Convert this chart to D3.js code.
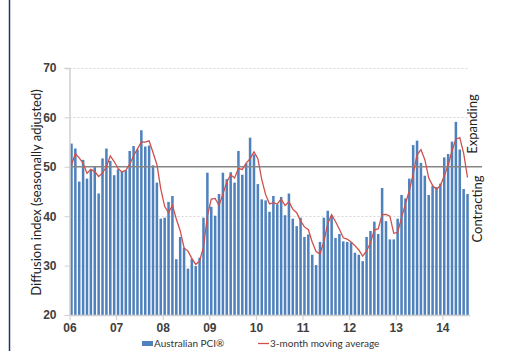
<!DOCTYPE html>
<html>
<head>
<meta charset="utf-8">
<script src="https://cdn.jsdelivr.net/npm/d3@7"></script>
<style>
  body { margin: 0; background: #fff; }
  svg { display: block; font-family: Lato, "Open Sans", sans-serif; }
</style>
</head>
<body>
<div id="chart"></div>
<script>
// Monthly Australian PCI, Jan 2006 - Jul 2014
const pciValues = [
  54.7, 53.7, 47.0, 51.4, 47.6, 49.5, 50.0, 44.6, 51.7, 53.7, 51.2, 48.3,
  49.5, 49.1, 49.3, 53.2, 54.2, 53.5, 57.4, 54.1, 54.3, 50.3, 46.8, 39.5,
  39.7, 42.9, 44.1, 31.3, 35.8, 33.6, 29.4, 31.4, 29.9, 31.6, 39.7, 48.8,
  41.9, 40.1, 44.5, 48.8, 47.5, 48.9, 46.8, 53.2, 48.4, 50.7, 55.9, 52.5,
  46.5, 43.4, 43.2, 40.9, 44.1, 42.4, 43.9, 40.2, 44.6, 39.5, 38.0, 39.7,
  35.8, 36.3, 32.2, 30.1, 34.8, 39.7, 41.1, 40.1, 35.6, 36.4, 34.9, 34.8,
  34.7, 32.6, 32.2, 30.9, 35.8, 37.0, 38.9, 36.4, 45.7, 39.0, 35.3, 35.3,
  39.5, 44.3, 43.6, 47.6, 54.4, 55.3, 50.8, 48.2, 44.3, 46.1, 45.9, 46.6,
  51.9, 52.6, 55.1, 59.1, 53.5, 45.5, 44.5
];
// Nov, Dec 2005 - only used to start the moving average
const pciLead = [46.5, 49.7];

const yearLabels = ["06", "07", "08", "09", "10", "11", "12", "13", "14"];
const yTicks = [20, 30, 40, 50, 60, 70];
const gridTicks = [30, 40, 60, 70];

const width = 510;
const height = 351;
const plot = { left: 69.5, right: 469.5, top: 68, bottom: 315 };

const barColor = "#4f81bd";
const lineColor = "#d0504d";
const textColor = "#404040";

// 3-month moving average of the index
const allValues = pciLead.concat(pciValues);
const maValues = pciValues.map(function (d, i) {
  return d3.mean(allValues.slice(i, i + 3));
});

const svg = d3.select("#chart")
  .append("svg")
  .attr("width", width)
  .attr("height", height);

svg.append("rect")
  .attr("width", width)
  .attr("height", height)
  .attr("fill", "#fff");

// dark frame edge on the left
svg.append("line")
  .attr("x1", 9.5).attr("x2", 9.5)
  .attr("y1", 0).attr("y2", height)
  .attr("stroke", "#1f3864")
  .attr("stroke-width", 1.5);

const xBand = d3.scaleBand()
  .domain(d3.range(pciValues.length))
  .range([plot.left, plot.right])
  .paddingInner(0.35)
  .paddingOuter(0.18);

const xMonth = d3.scaleLinear()
  .domain([0, pciValues.length])
  .range([plot.left, plot.right]);

const y = d3.scaleLinear()
  .domain([20, 70])
  .range([plot.bottom, plot.top]);

// dashed gridlines
svg.append("g")
  .selectAll("line")
  .data(gridTicks)
  .enter()
  .append("line")
  .attr("x1", plot.left)
  .attr("x2", plot.right - 2)
  .attr("y1", function (d) { return Math.round(y(d)) + 0.5; })
  .attr("y2", function (d) { return Math.round(y(d)) + 0.5; })
  .attr("stroke", "#d6d6d6")
  .attr("stroke-dasharray", "2,2");

// bars
svg.append("g")
  .selectAll("rect")
  .data(pciValues)
  .enter()
  .append("rect")
  .attr("x", function (d, i) { return xBand(i); })
  .attr("y", function (d) { return y(d); })
  .attr("width", xBand.bandwidth())
  .attr("height", function (d) { return plot.bottom - y(d); })
  .attr("fill", barColor);

// 50 line separating expanding / contracting
svg.append("line")
  .attr("x1", plot.left)
  .attr("x2", 482)
  .attr("y1", y(50))
  .attr("y2", y(50))
  .attr("stroke", "#858585")
  .attr("stroke-width", 1.5);

// moving average line
const line = d3.line()
  .x(function (d, i) { return xBand(i) + xBand.bandwidth() / 2; })
  .y(function (d) { return y(d); });

svg.append("path")
  .datum(maValues)
  .attr("d", line)
  .attr("fill", "none")
  .attr("stroke", lineColor)
  .attr("stroke-width", 1.3);

// y axis
const yAxis = svg.append("g")
  .attr("transform", `translate(${plot.left}, 0)`)
  .call(d3.axisLeft(y).tickValues(yTicks).tickSize(5).tickPadding(8));

// x axis
const xAxis = svg.append("g")
  .attr("transform", `translate(0, ${plot.bottom})`)
  .call(d3.axisBottom(xMonth)
    .tickValues(yearLabels.map(function (d, i) { return i * 12; }))
    .tickFormat(function (d, i) { return yearLabels[i]; })
    .tickSize(5)
    .tickPadding(3)
    .tickSizeOuter(0));

[yAxis, xAxis].forEach(function (g) {
  g.select(".domain").attr("stroke", "#d0d0d0").attr("stroke-width", 1.5);
  g.selectAll(".tick line").attr("stroke", "#d0d0d0");
  g.selectAll("text")
    .attr("fill", textColor)
    .style("font-size", "12px")
    .style("font-weight", "600");
});
yAxis.select(".domain").attr("d", `M-5,${plot.top}.5H0.5V${plot.bottom}`);

// y axis title
svg.append("text")
  .attr("transform", `translate(41, ${(plot.top + plot.bottom) / 2 + 1}) rotate(-90)`)
  .attr("text-anchor", "middle")
  .attr("fill", "#222")
  .style("font-size", "13px")
  .text("Diffusion index (seasonally adjusted)");

// side labels
svg.append("text")
  .attr("transform", "translate(477, 124) rotate(-90)")
  .attr("text-anchor", "middle")
  .attr("fill", "#222")
  .style("font-size", "13px")
  .text("Expanding");

svg.append("text")
  .attr("transform", "translate(482, 209) rotate(-90)")
  .attr("text-anchor", "middle")
  .attr("fill", "#222")
  .style("font-size", "13px")
  .text("Contracting");

// legend
const legend = svg.append("g")
  .style("font-size", "10px")
  .attr("fill", "#333");

legend.append("rect")
  .attr("x", 142).attr("y", 341)
  .attr("width", 11).attr("height", 5)
  .attr("fill", barColor);

legend.append("text")
  .attr("x", 154).attr("y", 347)
  .text("Australian PCI®");

legend.append("line")
  .attr("x1", 258).attr("x2", 269)
  .attr("y1", 343.5).attr("y2", 343.5)
  .attr("stroke", lineColor)
  .attr("stroke-width", 1.3);

legend.append("text")
  .attr("x", 270).attr("y", 347)
  .text("3-month moving average");
</script>
</body>
</html>
